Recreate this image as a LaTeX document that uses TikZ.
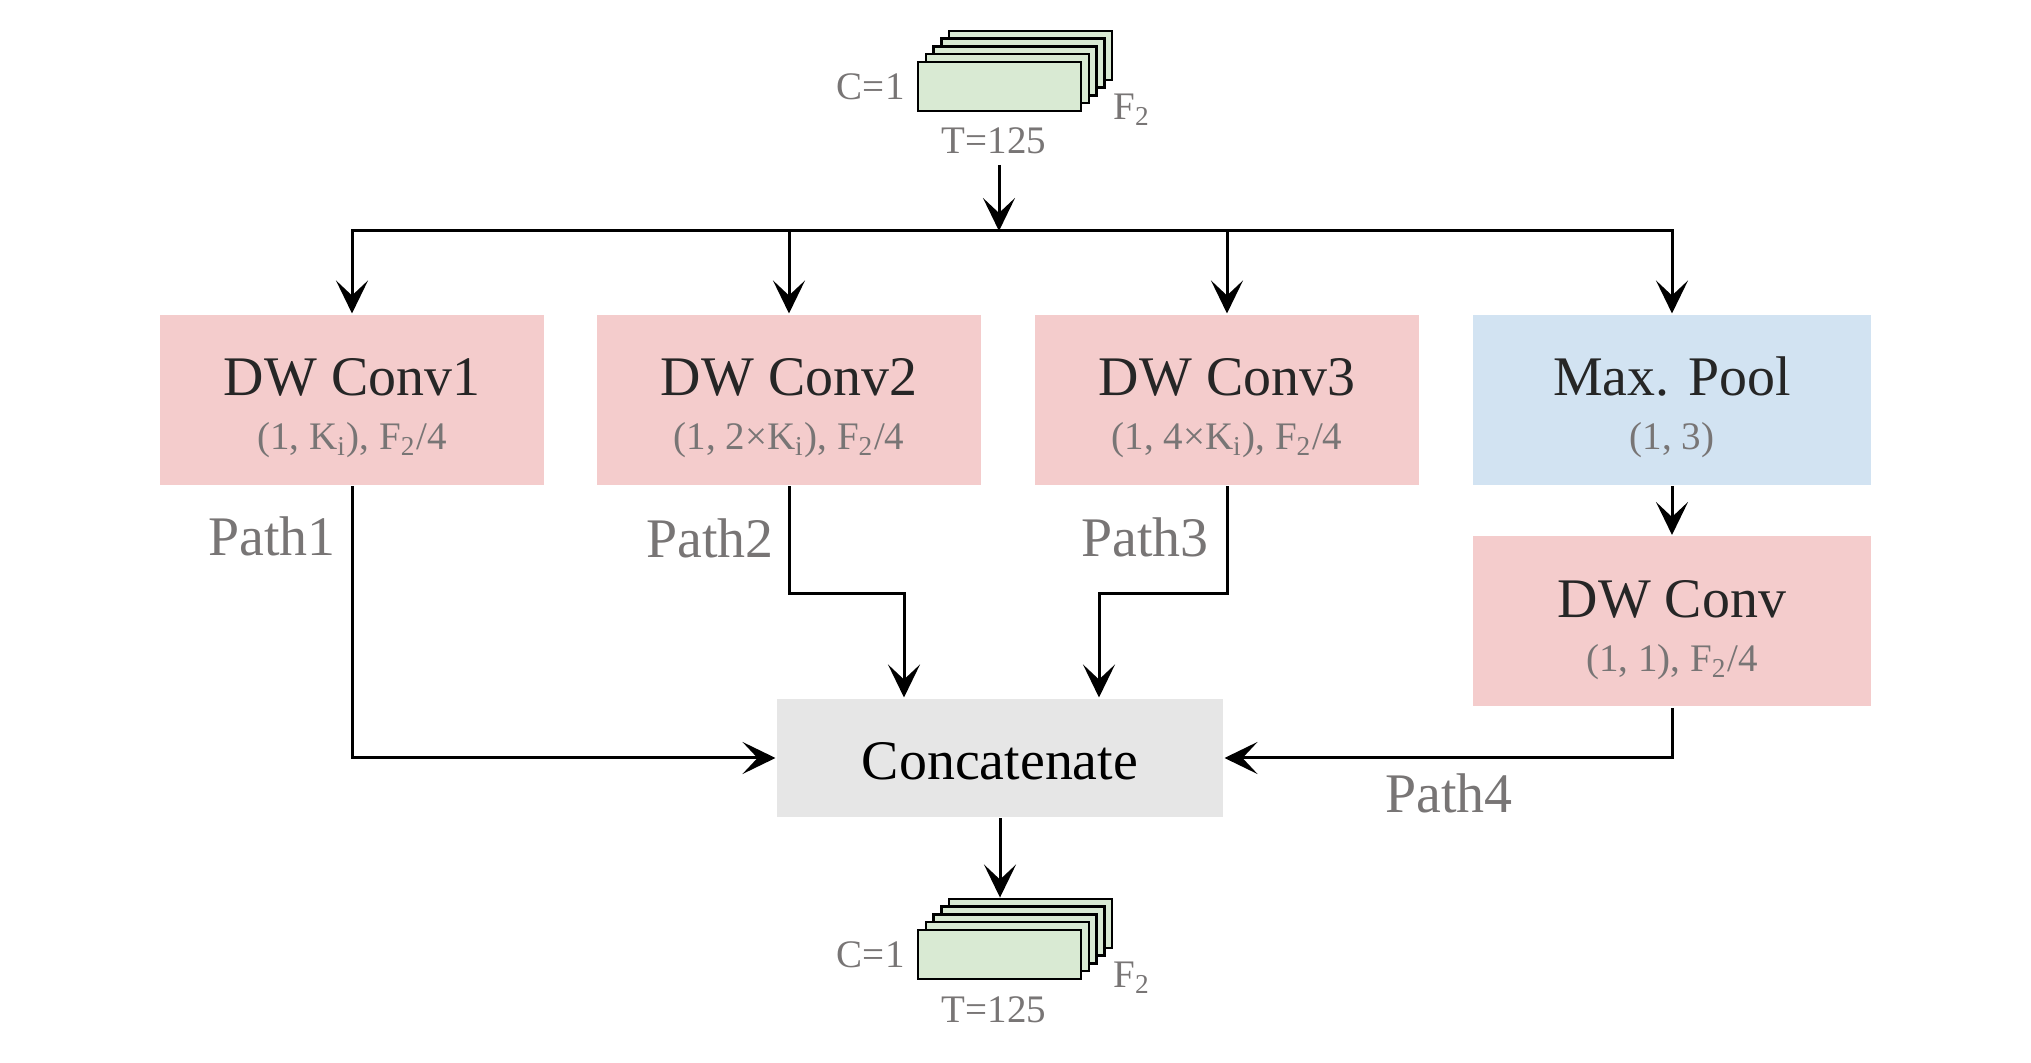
\documentclass[tikz,border=0pt]{standalone}
\usepackage{fontspec}
\setmainfont{Liberation Serif}
\usetikzlibrary{arrows.meta}

\definecolor{convred}{HTML}{F4CCCC}
\definecolor{poolblue}{HTML}{D2E3F2}
\definecolor{catgray}{HTML}{E6E6E6}
\definecolor{mapgreen}{HTML}{D9EAD3}
\definecolor{labelgray}{HTML}{787575}
\definecolor{textdark}{HTML}{262626}

\tikzset{
    convbox/.style={fill=convred, minimum width=3.84cm, minimum height=1.70cm, inner sep=0pt},
    poolbox/.style={fill=poolblue, minimum width=3.98cm, minimum height=1.70cm, inner sep=0pt},
    dwbox/.style={fill=convred, minimum width=3.98cm, minimum height=1.70cm, inner sep=0pt},
    catbox/.style={fill=catgray, minimum width=4.46cm, minimum height=1.18cm, inner sep=0pt,
        font=\fontsize{15.9}{19}\selectfont, text height=0.44cm, text depth=0cm},
    mapbox/.style={draw=black, line width=0.025cm, fill=mapgreen, minimum width=1.63cm, minimum height=0.49cm, inner sep=0pt},
    arr/.style={-{Stealth[length=0.33cm, width=0.32cm, inset=0.15cm]}},
    bigtxt/.style={font=\fontsize{15.9}{19}\selectfont, text=textdark, inner sep=0pt},
    smalltxt/.style={font=\fontsize{11.1}{13}\selectfont, text=labelgray, inner sep=0pt},
    pathtxt/.style={font=\fontsize{15.9}{19}\selectfont, text=labelgray, inner sep=0pt}
}

\begin{document}
\begin{tikzpicture}[line width=0.03cm]
    \useasboundingbox (0,0) rectangle (20.31,-10.63);
    % feature maps, back to front
    \foreach \i in {4,3,2,1} {
        \path (9.995+0.078*\i, -0.865+0.078*\i) node[mapbox] (in\i) {};
        \path (9.995+0.078*\i, -9.545+0.078*\i) node[mapbox] (out\i) {};
    }
    \path (9.995, -0.865) node[mapbox] (in) {} (9.995, -9.545) node[mapbox] (out) {};
    \path (9.06, -1.00) node[smalltxt, anchor=base east] (c0) {C=1}
          (11.12, -1.20) node[smalltxt, anchor=base west] (f0) {F\textsubscript{2}}
          (9.94, -1.54) node[smalltxt, anchor=base] (t0) {T=125};
    \path (9.06, -9.68) node[smalltxt, anchor=base east] (c9) {C=1}
          (11.12, -9.88) node[smalltxt, anchor=base west] (f9) {F\textsubscript{2}}
          (9.94, -10.23) node[smalltxt, anchor=base] (t9) {T=125};

    % blocks
    \path (3.52, -4.00) node[convbox] (c1) {} (7.89, -4.00) node[convbox] (c2) {}
          (12.27, -4.00) node[convbox] (c3) {} (16.72, -4.00) node[poolbox] (mp) {}
          (16.72, -6.215) node[dwbox] (dw) {} (10.00, -7.58) node[catbox] (cat) {Concatenate};
    \path ([yshift=0.04cm]c1.center) node[bigtxt, anchor=base] (c1a) {DW Conv1}
          ([yshift=-0.50cm]c1.center) node[smalltxt, anchor=base] (c1b) {(1, K\textsubscript{i}), F\textsubscript{2}/4};
    \path ([yshift=0.04cm]c2.center) node[bigtxt, anchor=base] (c2a) {DW Conv2}
          ([yshift=-0.50cm]c2.center) node[smalltxt, anchor=base] (c2b) {(1, 2×K\textsubscript{i}), F\textsubscript{2}/4};
    \path ([yshift=0.04cm]c3.center) node[bigtxt, anchor=base] (c3a) {DW Conv3}
          ([yshift=-0.50cm]c3.center) node[smalltxt, anchor=base] (c3b) {(1, 4×K\textsubscript{i}), F\textsubscript{2}/4};
    \path ([yshift=0.04cm]mp.center) node[bigtxt, anchor=base] (mpa) {Max. Pool}
          ([yshift=-0.50cm]mp.center) node[smalltxt, anchor=base] (mpb) {(1, 3)};
    \path ([yshift=0.04cm]dw.center) node[bigtxt, anchor=base] (dwa) {DW Conv}
          ([yshift=-0.50cm]dw.center) node[smalltxt, anchor=base] (dwb) {(1, 1), F\textsubscript{2}/4};

    % connectors
    \coordinate (src) at (9.99, -1.65);
    \coordinate (bus) at (9.99, -2.31);
    \draw[arr] (src) -- (bus);
    \draw[arr] (bus) -| (c1.north);
    \draw[arr] (bus) -| (mp.north);
    \draw[arr] (bus -| c2.north) -- (c2.north);
    \draw[arr] (bus -| c3.north) -- (c3.north);
    \draw[arr] (mp) -- (dw);
    \draw[arr] (c1.south) |- (cat.west);
    \draw[arr] (c2.south) -- ++(0, -1.07) -| ([xshift=-0.96cm]cat.north);
    \draw[arr] (c3.south) -- ++(0, -1.07) -| ([xshift=0.99cm]cat.north);
    \draw[arr] (dw.south) |- (cat.east);
    \draw[arr] (cat.south) -- (cat.south |- out4.north);

    \path (3.37, -5.56) node[pathtxt, anchor=base east] (p1) {Path1}
          (7.75, -5.58) node[pathtxt, anchor=base east] (p2) {Path2}
          (12.10, -5.57) node[pathtxt, anchor=base east] (p3) {Path3}
          (13.84, -8.13) node[pathtxt, anchor=base west] (p4) {Path4};
\end{tikzpicture}
\end{document}
